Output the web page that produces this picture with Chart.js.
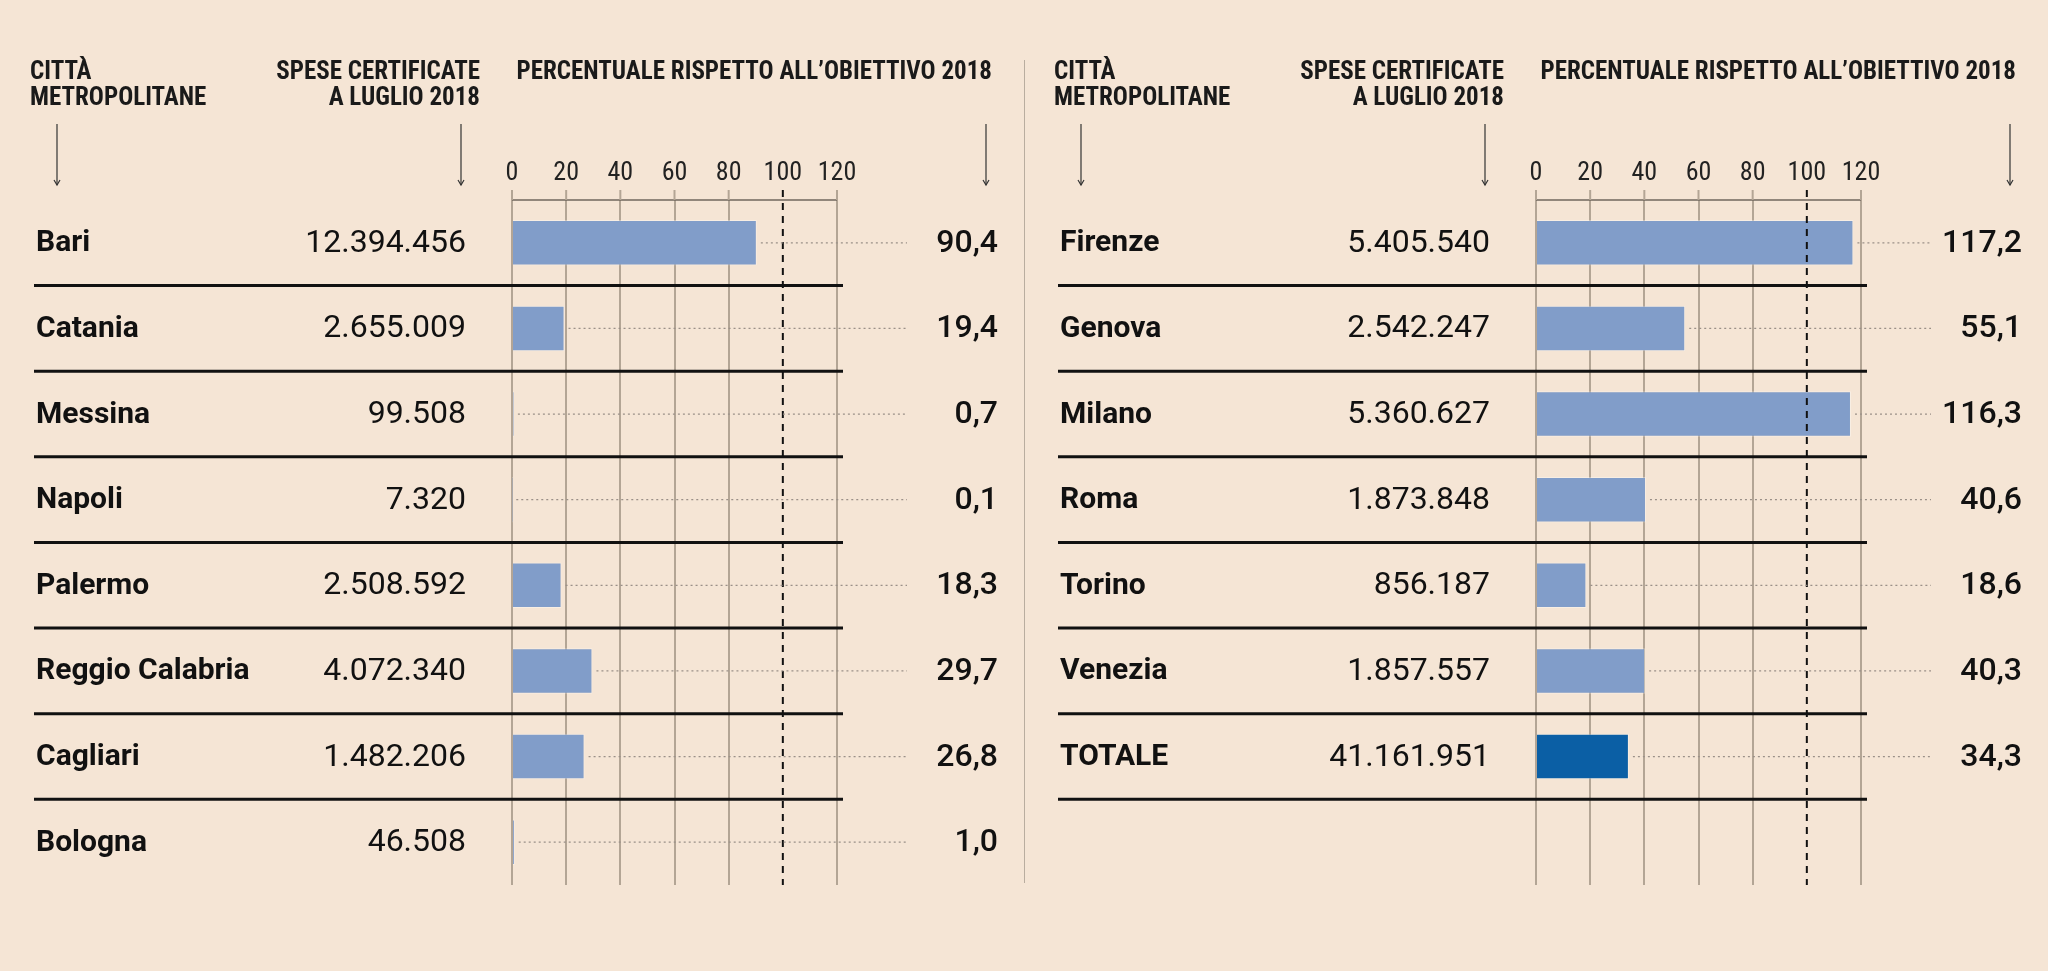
<!DOCTYPE html>
<html><head><meta charset="utf-8">
<script src="https://cdn.jsdelivr.net/npm/chart.js@4/dist/chart.umd.min.js"></script>
<style>
html,body{margin:0;padding:0;background:#f5e5d5;}
#wrap{position:relative;width:2048px;height:971px;background:#f5e5d5;}
canvas{position:absolute;top:0;}
#divider{position:absolute;left:1024px;top:60px;width:1px;height:823px;background:#b9ad9f;}
</style></head><body>
<div id="wrap">
<canvas id="c1" width="1024" height="971" style="left:0;width:1024px;height:971px"></canvas>
<div id="divider"></div>
<canvas id="c2" width="1024" height="971" style="left:1024px;width:1024px;height:971px"></canvas>
</div>
<script>
const leftCities = ["Bari","Catania","Messina","Napoli","Palermo","Reggio Calabria","Cagliari","Bologna"];
const leftSpese = ["12.394.456","2.655.009","99.508","7.320","2.508.592","4.072.340","1.482.206","46.508"];
const leftPct = [90.4,19.4,0.7,0.1,18.3,29.7,26.8,1.0];
const rightCities = ["Firenze","Genova","Milano","Roma","Torino","Venezia","TOTALE",""];
const rightSpese = ["5.405.540","2.542.247","5.360.627","1.873.848","856.187","1.857.557","41.161.951",""];
const rightPct = [117.2,55.1,116.3,40.6,18.6,40.3,34.3,null];
const tickLabels = [0,20,40,60,80,100,120];
const target = 100;

const NARROW = "'Liberation Sans Narrow','Roboto Condensed',sans-serif";
const FONT = "Roboto,'Liberation Sans',sans-serif";
const LIGHT = '#819dc9', DARK = '#0b5fa5', GRID = '#b3a595';

function makeChart(id, cities, spese, pct, colors, nLines){
  const plugin = {
    id:'deco'+id,
    afterDatasetsDraw(chart){
      const ctx = chart.ctx, x = chart.scales.x, y = chart.scales.y;
      const x0 = x.getPixelForValue(0), x120 = x.getPixelForValue(120);
      const top = chart.chartArea.top;
      ctx.save();
      const xt = x.getPixelForValue(target);
      ctx.strokeStyle='#111'; ctx.lineWidth=2; ctx.setLineDash([7,6]);
      ctx.beginPath(); ctx.moveTo(xt, top-10); ctx.lineTo(xt, chart.chartArea.bottom); ctx.stroke();
      ctx.setLineDash([]);
      ctx.strokeStyle='#6f665d'; ctx.lineWidth=1.5;
      ctx.beginPath(); ctx.moveTo(x0, top); ctx.lineTo(x120, top); ctx.stroke();
      ctx.strokeStyle=GRID; ctx.lineWidth=2;
      tickLabels.forEach(t=>{const px=x.getPixelForValue(t); if(t!==target){ctx.beginPath();ctx.moveTo(px,top-10);ctx.lineTo(px,top);ctx.stroke();}});
      ctx.fillStyle='#222'; ctx.font="26px "+NARROW; ctx.textAlign='center'; ctx.textBaseline='alphabetic';
      tickLabels.forEach(t=>ctx.fillText(String(t), x.getPixelForValue(t), top-20));
      ctx.font="bold 25px "+NARROW; ctx.textAlign='left'; ctx.fillStyle='#1a1a1a';
      ctx.fillText('CITTÀ', 30, 79); ctx.fillText('METROPOLITANE', 30, 105);
      ctx.textAlign='right';
      ctx.fillText('SPESE CERTIFICATE', x0-32, 79); ctx.fillText('A LUGLIO 2018', x0-32, 105);
      ctx.fillText('PERCENTUALE RISPETTO ALL\u2019OBIETTIVO 2018', 992, 79);
      ctx.strokeStyle='#333'; ctx.lineWidth=1.2;
      [57, x0-51, 986].forEach(ax=>{
        ctx.beginPath(); ctx.moveTo(ax,124); ctx.lineTo(ax,185); ctx.stroke();
        ctx.beginPath(); ctx.moveTo(ax-3,180); ctx.lineTo(ax,185); ctx.lineTo(ax+3,180); ctx.stroke();
      });
      cities.forEach((c,i)=>{
        if(!c) return;
        const cy = y.getPixelForValue(i);
        const bh = 85.6;
        const xe = x.getPixelForValue(pct[i]);
        ctx.strokeStyle='#9a9088'; ctx.lineWidth=1.2; ctx.setLineDash([2,3]);
        ctx.beginPath(); ctx.moveTo(xe+4, cy); ctx.lineTo(x120+70, cy); ctx.stroke();
        ctx.setLineDash([]);
        ctx.fillStyle='#111'; ctx.textBaseline='middle';
        ctx.font="bold 30px "+FONT; ctx.textAlign='left'; ctx.fillText(c, 36, cy+1);
        ctx.font="32px "+FONT; ctx.textAlign='right'; ctx.fillText(spese[i], x0-46, cy+1);
        ctx.font="500 32px "+FONT; ctx.fillText(pct[i].toFixed(1).replace('.',','), 998, cy+1);
        if(i < nLines){
          ctx.strokeStyle='#111'; ctx.lineWidth=3;
          ctx.beginPath(); ctx.moveTo(34, cy+bh/2); ctx.lineTo(x120+6, cy+bh/2); ctx.stroke();
        }
      });
      ctx.restore();
    }
  };
  return new Chart(document.getElementById(id), {
    type:'bar',
    data:{labels:cities, datasets:[{data:pct, backgroundColor:colors, borderColor:'rgba(255,255,255,0.35)', borderWidth:1, barPercentage:0.53, categoryPercentage:1}]},
    options:{
      indexAxis:'y', responsive:false, animation:false, devicePixelRatio:1,
      layout:{padding:{left:512, right:1024-837, top:200, bottom:971-885}},
      plugins:{legend:{display:false}, tooltip:{enabled:false}},
      scales:{
        x:{min:0,max:120, position:'top', ticks:{display:false, stepSize:20},
           grid:{color:(c)=>c.tick && c.tick.value===target ? 'rgba(0,0,0,0)' : GRID, lineWidth:2, drawTicks:false},
           border:{display:false}},
        y:{display:false, grid:{display:false}}
      }
    },
    plugins:[plugin]
  });
}
makeChart('c1', leftCities, leftSpese, leftPct, leftPct.map(()=>LIGHT), 7);
makeChart('c2', rightCities, rightSpese, rightPct, rightCities.map(c=>c==='TOTALE'?DARK:LIGHT), 7);
</script>
</body></html>
